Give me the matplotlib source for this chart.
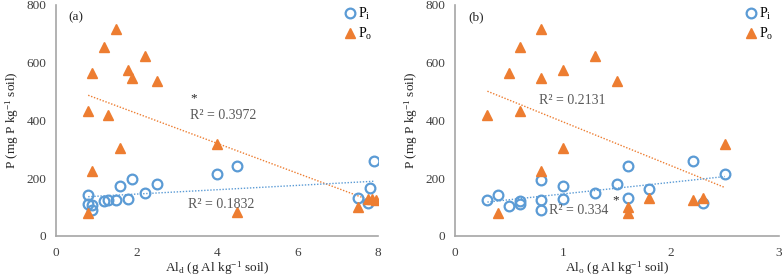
import numpy as np
import matplotlib
matplotlib.use("Agg")
import matplotlib.pyplot as plt

plt.rcParams['font.family'] = ['Liberation Serif', 'DejaVu Serif']
plt.rcParams['mathtext.fontset'] = 'custom'
plt.rcParams['mathtext.rm'] = 'Liberation Serif'
plt.rcParams['mathtext.it'] = 'Liberation Serif:italic'

# Panel (a): Ald
ald_pi_x = [0.8, 0.8, 0.9, 0.9, 1.2, 1.3, 1.5, 1.6, 1.8, 1.9, 2.2, 2.5, 4.0, 4.5, 7.5, 7.75, 7.8, 7.9]
ald_pi_y = [141, 110, 106, 90, 121, 125, 124, 173, 127, 196, 148, 181, 216, 241, 130, 115, 165, 261]
ald_po_x = [1.5, 1.2, 2.2, 0.9, 1.8, 1.9, 2.5, 0.8, 1.3, 1.6, 0.9, 0.8, 4.0, 4.5, 7.5, 7.75, 7.85, 7.95]
ald_po_y = [716, 655, 623, 563, 574, 547, 537, 433, 418, 306, 226, 78, 319, 82, 102, 129, 129, 125]

# Panel (b): Alo
alo_pi_x = [0.3, 0.4, 0.5, 0.6, 0.6, 0.8, 0.8, 0.8, 1.0, 1.0, 1.3, 1.5, 1.6, 1.6, 1.8, 2.2, 2.3, 2.5]
alo_pi_y = [126, 141, 105, 121, 111, 195, 124, 91, 173, 127, 148, 180, 241, 130, 164, 260, 114, 215]
alo_po_x = [0.8, 0.6, 1.3, 0.5, 1.0, 0.8, 1.5, 0.3, 0.6, 1.0, 0.8, 0.4, 2.5, 1.6, 1.6, 1.8, 2.2, 2.3]
alo_po_y = [717, 656, 623, 563, 574, 547, 538, 419, 433, 306, 225, 78, 319, 100, 81, 132, 125, 132]

BLUE = '#5B9BD5'
ORANGE = '#ED7D31'
GRAY_TXT = '#595959'

fig = plt.figure(figsize=(7.84, 2.78), dpi=100)
ax1 = fig.add_axes([56/784, 42/278, 322/784, 231/278])
ax2 = fig.add_axes([455/784, 42/278, 324/784, 231/278])

def trend(ax, x, y, color):
    x = np.asarray(x, float); y = np.asarray(y, float)
    m, b = np.polyfit(x, y, 1)
    xx = np.array([x.min(), x.max()])
    ax.plot(xx, m*xx + b, linestyle=(0, (1, 1.2)), color=color, lw=1.0, zorder=1)

def style(ax, xlim, xticks, xlabel):
    ax.set_xlim(*xlim)
    ax.set_ylim(0, 800)
    ax.set_xticks(xticks)
    ax.set_yticks([0, 200, 400, 600, 800])
    for s in ['top', 'right']:
        ax.spines[s].set_visible(False)
    for s in ['left', 'bottom']:
        ax.spines[s].set_color('#A6A6A6')
        ax.spines[s].set_linewidth(1.2)
    ax.tick_params(axis='x', length=0, labelsize=9.5, colors='#404040', pad=8)
    ax.tick_params(axis='y', length=0, labelsize=9.5, colors='#404040', pad=7)
    ax.set_ylabel('P (mg P kg$\\mathregular{^{-1}}$ soil)', fontsize=9.5, color='#262626', labelpad=4)
    ax.set_xlabel(xlabel, fontsize=9.5, color='#262626', labelpad=0)
    ax.legend(loc='upper right', frameon=False, fontsize=10, handletextpad=0.05,
              handlelength=1.0, borderaxespad=0.0, labelspacing=0.3,
              bbox_to_anchor=(1.0, 1.02))

for ax, pix, piy, pox, poy in [(ax1, ald_pi_x, ald_pi_y, ald_po_x, ald_po_y),
                               (ax2, alo_pi_x, alo_pi_y, alo_po_x, alo_po_y)]:
    ax.plot(pix, piy, 'o', ms=7, mfc='none', mec=BLUE, mew=1.6, label='P$_\\mathregular{i}$', zorder=3)
    ax.plot(pox, poy, '^', ms=7.5, color=ORANGE, mec=ORANGE, label='P$_\\mathregular{o}$', zorder=3)
    trend(ax, pox, poy, ORANGE)
    trend(ax, pix, piy, BLUE)

style(ax1, (0, 8), [0, 2, 4, 6, 8], 'Al$_\\mathregular{d}$ (g Al kg$\\mathregular{^{-1}}$ soil)')
style(ax2, (0, 3), [0, 1, 2, 3], 'Al$_\\mathregular{o}$ (g Al kg$\\mathregular{^{-1}}$ soil)')

ax1.text(0.3, 758, '(a)', fontsize=9.5, color='#262626', va='center')
ax2.text(0.12, 758, '(b)', fontsize=9.5, color='#262626', va='center')

ax1.text(3.33, 417, 'R² = 0.3972', fontsize=10, color=GRAY_TXT, va='center')
ax1.text(3.42, 477, '*', fontsize=9.5, color='#262626', va='center', ha='center')
ax1.text(3.28, 110, 'R² = 0.1832', fontsize=10, color=GRAY_TXT, va='center')
ax2.text(0.78, 469, 'R² = 0.2131', fontsize=10, color=GRAY_TXT, va='center')
ax2.text(0.87, 87, 'R² = 0.334', fontsize=10, color=GRAY_TXT, va='center')
ax2.text(1.49, 122, '*', fontsize=9.5, color='#262626', va='center', ha='center')

fig.savefig('out.png', dpi=100)
